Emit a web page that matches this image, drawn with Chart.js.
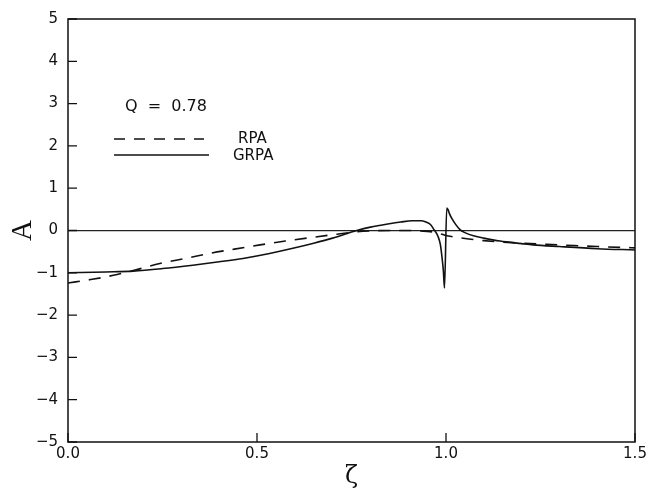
<!DOCTYPE html>
<html>
<head>
<meta charset="utf-8">
<script src="https://cdn.jsdelivr.net/npm/chart.js@4/dist/chart.umd.min.js"></script>
<style>
  body { margin: 0; background: #fff; }
  canvas { display: block; }
</style>
</head>
<body>
<canvas id="chart" width="653" height="491"></canvas>
<script>
// values
const rpaX = [0, 0.06, 0.12, 0.18, 0.243, 0.31, 0.375, 0.44, 0.508, 0.575, 0.64, 0.7, 0.754, 0.8, 0.85, 0.9, 0.95, 0.975, 0.99, 1.0, 1.02, 1.06, 1.1, 1.2, 1.3, 1.4, 1.5];
const rpaY = [-1.24, -1.16, -1.06, -0.93, -0.78, -0.66, -0.54, -0.44, -0.34, -0.25, -0.17, -0.1, -0.04, -0.01, 0.0, 0.0, -0.02, -0.05, -0.09, -0.12, -0.15, -0.2, -0.24, -0.3, -0.34, -0.38, -0.41];

const grpaX = [0, 0.1, 0.172, 0.25, 0.33, 0.4, 0.463, 0.53, 0.595, 0.65, 0.7, 0.764, 0.8, 0.85, 0.88, 0.91, 0.935, 0.95, 0.96, 0.966, 0.979, 0.985, 0.989, 0.993, 0.996, 1.002, 1.005, 1.01, 1.015, 1.025, 1.037, 1.05, 1.075, 1.1, 1.143, 1.2, 1.23, 1.3, 1.4, 1.5];
const grpaY = [-1.0, -0.98, -0.96, -0.9, -0.82, -0.74, -0.66, -0.55, -0.42, -0.3, -0.18, 0.0, 0.08, 0.16, 0.2, 0.23, 0.23, 0.19, 0.13, 0.05, -0.14, -0.33, -0.6, -0.95, -1.36, 0.53, 0.5, 0.38, 0.29, 0.15, 0.02, -0.05, -0.13, -0.18, -0.25, -0.31, -0.34, -0.38, -0.43, -0.46];

const xTicks = [0, 0.5, 1.0, 1.5];
const yTicks = [-5, -4, -3, -2, -1, 0, 1, 2, 3, 4, 5];

const qLabel = "Q  =  0.78";
const seriesNames = ["RPA", "GRPA"];

const toPoints = (xs, ys) => xs.map((x, i) => ({ x: x, y: ys[i] }));
const sans = "'DejaVu Sans', Arial, sans-serif";
const tickFont = { family: sans, size: 15 };

// frame, inward ticks and the little key inside the plot
const framePlugin = {
  id: "frame",
  afterDatasetsDraw(chart) {
    const { ctx, chartArea: a, scales } = chart;
    ctx.save();
    ctx.strokeStyle = "#111";
    ctx.lineWidth = 1.5;
    ctx.strokeRect(a.left, a.top, a.right - a.left, a.bottom - a.top);

    ctx.lineWidth = 1.3;
    ctx.beginPath();
    yTicks.forEach(v => {
      const py = scales.y.getPixelForValue(v);
      ctx.moveTo(a.left, py);
      ctx.lineTo(a.left + 9, py);
    });
    xTicks.forEach(v => {
      const px = scales.x.getPixelForValue(v);
      ctx.moveTo(px, a.bottom);
      ctx.lineTo(px, a.bottom - 9);
    });
    ctx.stroke();

    // key
    const kx = a.left + 46;
    ctx.fillStyle = "#111";
    ctx.textBaseline = "middle";
    ctx.font = "16px " + sans;
    ctx.fillText(qLabel, a.left + 57, a.top + 88);

    ctx.lineWidth = 1.5;
    ctx.setLineDash([11, 9]);
    ctx.beginPath();
    ctx.moveTo(kx, a.top + 120);
    ctx.lineTo(kx + 90, a.top + 120);
    ctx.stroke();
    ctx.setLineDash([]);
    ctx.beginPath();
    ctx.moveTo(kx, a.top + 136);
    ctx.lineTo(kx + 95, a.top + 136);
    ctx.stroke();
    ctx.font = "15px " + sans;
    ctx.fillText(seriesNames[0], a.left + 170, a.top + 120);
    ctx.fillText(seriesNames[1], a.left + 165, a.top + 137);
    ctx.restore();
  }
};

new Chart(document.getElementById("chart"), {
  type: "line",
  data: {
    datasets: [
      {
        label: seriesNames[0],
        data: toPoints(rpaX, rpaY),
        borderColor: "#111",
        borderWidth: 1.6,
        borderDash: [12, 9],
        pointRadius: 0,
        cubicInterpolationMode: "monotone",
        fill: false
      },
      {
        label: seriesNames[1],
        data: toPoints(grpaX, grpaY),
        borderColor: "#111",
        borderWidth: 1.6,
        pointRadius: 0,
        cubicInterpolationMode: "monotone",
        fill: false
      }
    ]
  },
  options: {
    responsive: false,
    animation: false,
    layout: { padding: { top: 16, right: 18, left: 0, bottom: 0 } },
    plugins: {
      legend: { display: false },
      tooltip: { enabled: false }
    },
    scales: {
      x: {
        type: "linear",
        min: 0,
        max: 1.5,
        afterBuildTicks: scale => { scale.ticks = xTicks.map(v => ({ value: v })); },
        afterFit: scale => { scale.height = 49; },
        ticks: {
          font: tickFont,
          color: "#111",
          padding: 3,
          maxRotation: 0,
          callback: v => Number(v).toFixed(1)
        },
        grid: { display: false, drawTicks: false },
        border: { display: false },
        title: {
          display: true,
          text: "ζ",
          color: "#111",
          font: { family: "'DejaVu Serif', serif", size: 24 },
          padding: { top: 0, bottom: 0 }
        }
      },
      y: {
        type: "linear",
        min: -5,
        max: 5,
        afterBuildTicks: scale => { scale.ticks = yTicks.map(v => ({ value: v })); },
        afterFit: scale => { scale.width = 68; },
        ticks: {
          font: tickFont,
          color: "#111",
          padding: 10,
          callback: v => (v < 0 ? "\u2212" + Math.abs(v) : String(v))
        },
        grid: {
          drawTicks: false,
          lineWidth: 1.2,
          color: ctx => (ctx.tick && ctx.tick.value === 0 ? "#222" : "rgba(0,0,0,0)")
        },
        border: { display: false },
        title: {
          display: true,
          text: "A",
          color: "#111",
          font: { family: "'Liberation Serif', 'Times New Roman', serif", size: 29 },
          padding: { top: 6, bottom: 4 }
        }
      }
    }
  },
  plugins: [framePlugin]
});
</script>
</body>
</html>
